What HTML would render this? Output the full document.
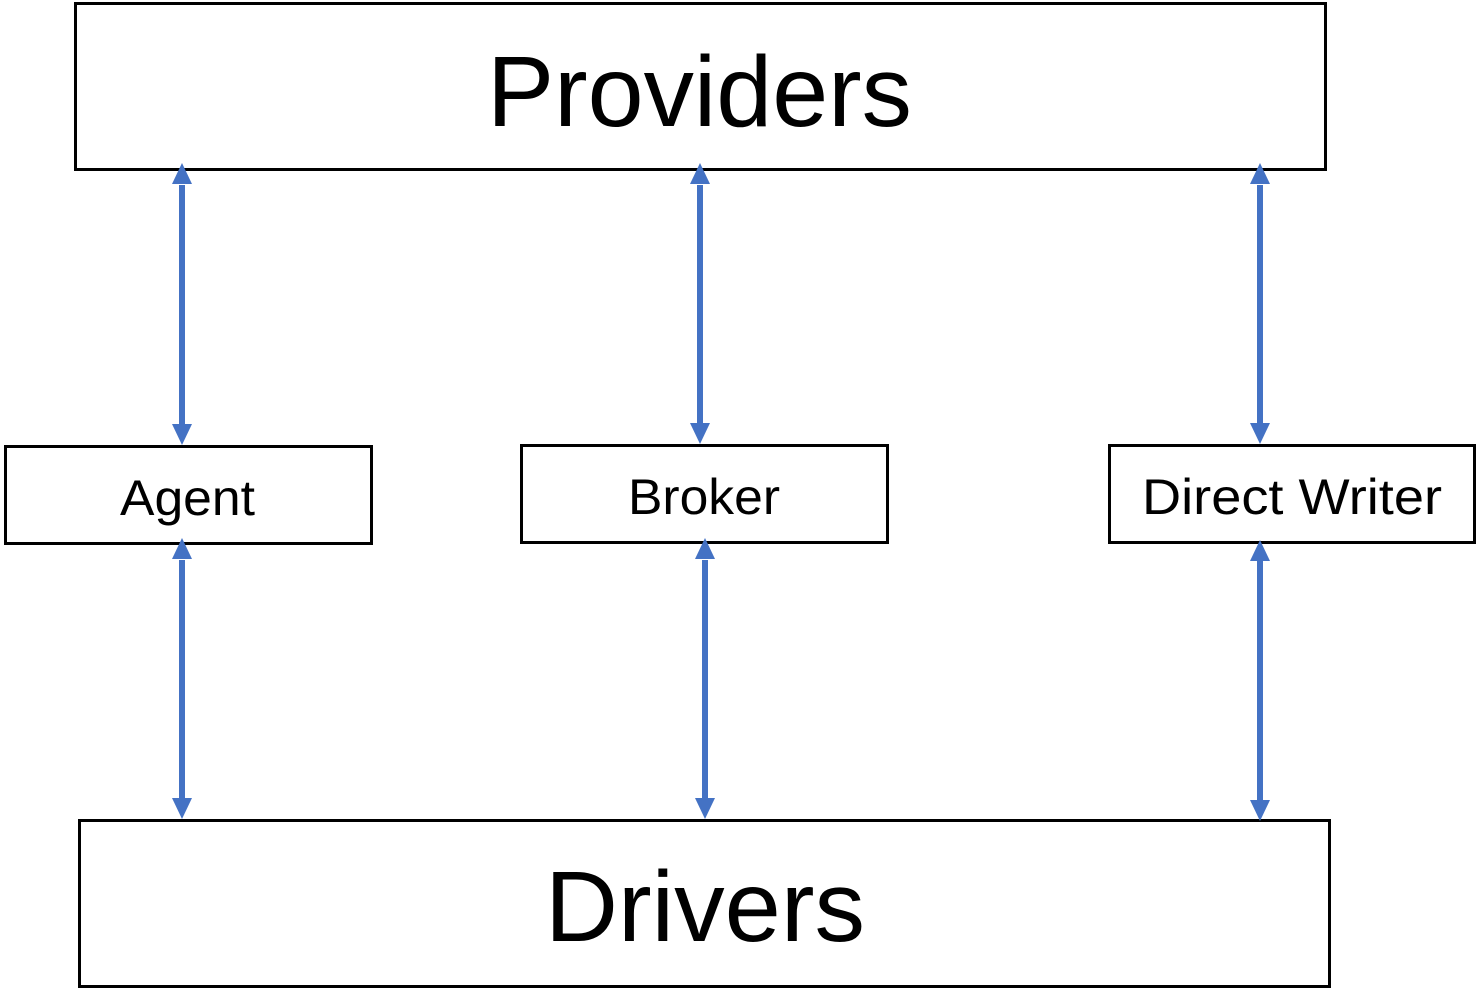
<!DOCTYPE html>
<html><head><style>html,body{margin:0;padding:0;background:#fff;}svg{display:block}</style></head>
<body>
<svg width="1481" height="995" viewBox="0 0 1481 995" xmlns="http://www.w3.org/2000/svg" font-family="Liberation Sans, sans-serif">
<g fill="#fff" stroke="#000" stroke-width="3">
<rect x="75.5" y="3.5" width="1250" height="166"/>
<rect x="79.5" y="820.5" width="1250" height="166"/>
<rect x="5.5" y="446.5" width="366" height="97"/>
<rect x="521.5" y="445.5" width="366" height="97"/>
<rect x="1109.5" y="445.5" width="365" height="97"/>
</g>
<g fill="#000">
<text x="487" y="126" font-size="100" textLength="425" lengthAdjust="spacingAndGlyphs">Providers</text>
<text x="545" y="941" font-size="100" textLength="320" lengthAdjust="spacingAndGlyphs">Drivers</text>
<text x="120" y="515" font-size="50" textLength="135" lengthAdjust="spacingAndGlyphs">Agent</text>
<text x="628" y="514" font-size="50" textLength="152" lengthAdjust="spacingAndGlyphs">Broker</text>
<text x="1142" y="514" font-size="50" textLength="300" lengthAdjust="spacingAndGlyphs">Direct Writer</text>
</g>
<g stroke="#4472C4" stroke-width="6">
<line x1="182" y1="185" x2="182" y2="428"/>
<line x1="700" y1="185" x2="700" y2="428"/>
<line x1="1260" y1="185" x2="1260" y2="428"/>
<line x1="182" y1="560" x2="182" y2="802"/>
<line x1="705" y1="560" x2="705" y2="802"/>
<line x1="1260" y1="561" x2="1260" y2="803"/>
</g>
<g fill="#4472C4">
<polygon points="182,163 172,184 192,184"/>
<polygon points="182,445 172,424 192,424"/>
<polygon points="700,163 690,184 710,184"/>
<polygon points="700,444 690,423 710,423"/>
<polygon points="1260,163 1250,184 1270,184"/>
<polygon points="1260,444 1250,423 1270,423"/>
<polygon points="182,538 172,559 192,559"/>
<polygon points="182,819 172,798 192,798"/>
<polygon points="705,538 695,559 715,559"/>
<polygon points="705,819 695,798 715,798"/>
<polygon points="1260,540 1250,561 1270,561"/>
<polygon points="1260,821 1250,800 1270,800"/>
</g>
</svg>
</body></html>
